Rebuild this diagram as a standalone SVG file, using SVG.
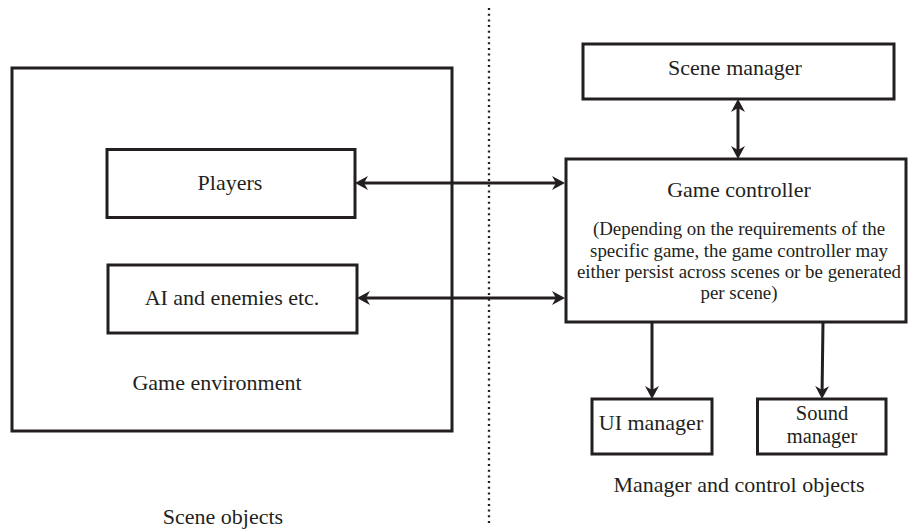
<svg xmlns="http://www.w3.org/2000/svg" width="908" height="529" viewBox="0 0 908 529">
<style>
.box{fill:none;stroke:#231f20;stroke-width:3}
.lbl{font-family:"Liberation Serif","Times New Roman",serif;font-size:22px;fill:#231f20;text-anchor:middle}
.small{font-size:18.9px}
.two{font-size:20.5px}
.conn{stroke:#231f20;stroke-width:3;fill:none}
</style>
<defs>
<marker id="ah" viewBox="0 -7 13 14" refX="4" refY="0" markerWidth="13" markerHeight="14" markerUnits="userSpaceOnUse" orient="auto-start-reverse">
<path d="M0,-7 L13,0 L0,7 L4,0 Z" fill="#231f20"/>
</marker>
</defs>
<rect width="908" height="529" fill="#ffffff"/>
<line x1="489" y1="8" x2="489" y2="526" stroke="#231f20" stroke-width="2.3" stroke-dasharray="2 3.7"/>
<g id="game-environment">
<rect class="box" x="12" y="68" width="440" height="363"/>
<text class="lbl" x="217" y="390">Game environment</text>
</g>
<g id="players">
<rect class="box" x="107" y="149.5" width="248" height="68"/>
<text class="lbl" x="230" y="190">Players</text>
</g>
<g id="ai-enemies">
<rect class="box" x="108" y="265" width="249" height="68"/>
<text class="lbl" x="232" y="305">AI and enemies etc.</text>
</g>
<g id="scene-manager">
<rect class="box" x="583" y="44" width="311" height="55"/>
<text class="lbl" x="735" y="75">Scene manager</text>
</g>
<g id="game-controller">
<rect class="box" x="566" y="159" width="340" height="163"/>
<text class="lbl" x="739" y="197">Game controller</text>
<text class="lbl small" x="739" y="235">(Depending on the requirements of the</text>
<text class="lbl small" x="739" y="256.5">specific game, the game controller may</text>
<text class="lbl small" x="739" y="278">either persist across scenes or be generated</text>
<text class="lbl small" x="739" y="298.5">per scene)</text>
</g>
<g id="ui-manager">
<rect class="box" x="592" y="399" width="120" height="55"/>
<text class="lbl" x="651" y="430">UI manager</text>
</g>
<g id="sound-manager">
<rect class="box" x="757.5" y="399" width="128.5" height="55"/>
<text class="lbl two" x="822" y="420">Sound</text>
<text class="lbl two" x="822" y="442.5">manager</text>
</g>
<g id="scene-objects-label">
<text class="lbl" x="223" y="524">Scene objects</text>
</g>
<g id="manager-objects-label">
<text class="lbl" x="739" y="492">Manager and control objects</text>
</g>
<g id="connectors">
<line class="conn" x1="364" y1="183" x2="556" y2="183" marker-start="url(#ah)" marker-end="url(#ah)"/>
<line class="conn" x1="366" y1="298" x2="556" y2="298" marker-start="url(#ah)" marker-end="url(#ah)"/>
<line class="conn" x1="738" y1="108" x2="738" y2="150" marker-start="url(#ah)" marker-end="url(#ah)"/>
<line class="conn" x1="652" y1="322" x2="652" y2="390" marker-end="url(#ah)"/>
<line class="conn" x1="823" y1="322" x2="822.1" y2="390" marker-end="url(#ah)"/>
</g>
</svg>
